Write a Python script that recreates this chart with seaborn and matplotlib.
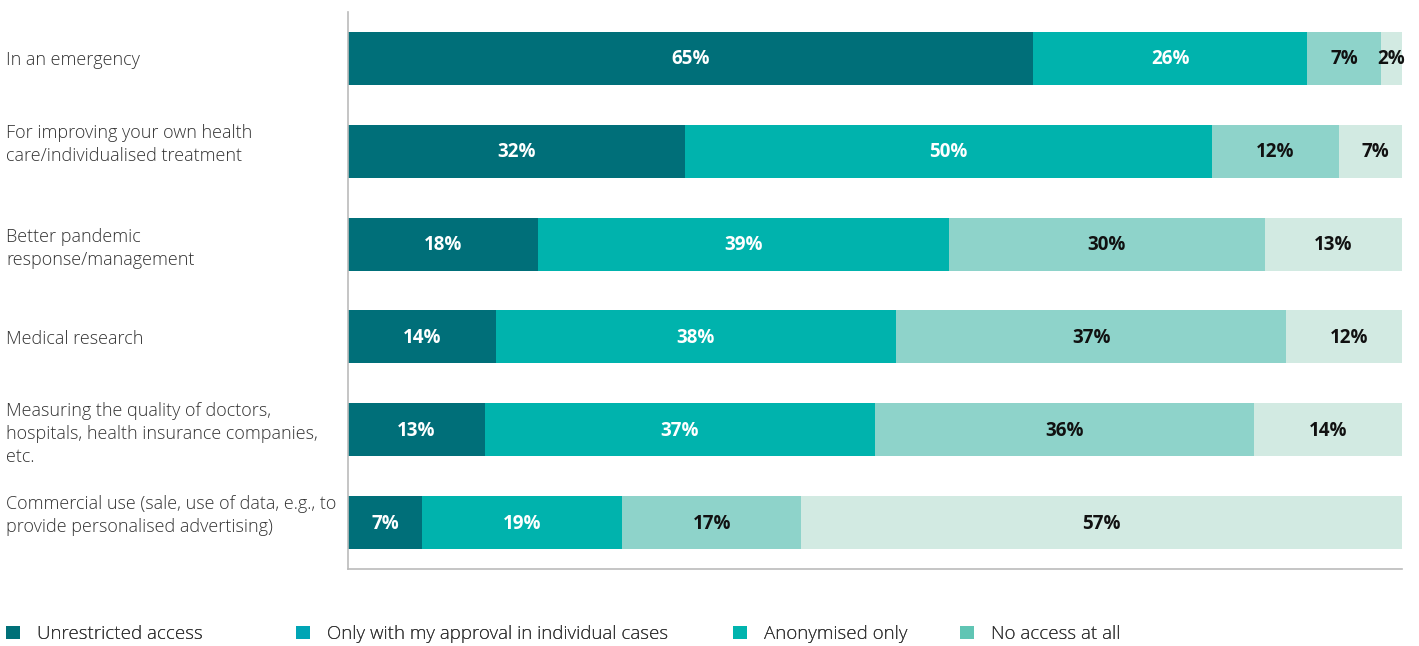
import matplotlib
matplotlib.use("Agg")
import matplotlib.pyplot as plt
from matplotlib.patches import Patch
import numpy as np
import pandas as pd
import seaborn as sns

categories = [
    "In an emergency",
    "For improving your own health\ncare/individualised treatment\n",
    "Better pandemic\nresponse/management",
    "Medical research",
    "Measuring the quality of doctors,\nhospitals, health insurance companies,\netc.",
    "Commercial use (sale, use of data, e.g., to\nprovide personalised advertising)\n",
]
series_names = [
    "Unrestricted access",
    "Only with my approval in individual cases",
    "Anonymised only",
    "No access at all",
]
unrestricted = [65, 32, 18, 14, 13, 7]
approval = [26, 50, 39, 38, 37, 19]
anonymised = [7, 12, 30, 37, 36, 17]
no_access = [2, 7, 13, 12, 14, 57]

bar_colors = ["#006F79", "#00B3AD", "#8ED3CA", "#D2EAE2"]
legend_colors = ["#007078", "#00A5B5", "#00B4AE", "#60C5B4"]
label_colors = ["white", "white", "#111111", "#111111"]

sns.set_style("white")
plt.rcParams["font.family"] = ["Open Sans", "DejaVu Sans"]

W, H = 1419, 646
fig = plt.figure(figsize=(W / 100, H / 100), dpi=100)
ax = fig.add_axes([348 / W, 1 - 569 / H, (1402 - 348) / W, (569 - 12) / H])

values = np.array([unrestricted, approval, anonymised, no_access], dtype=float)
cum = np.cumsum(values, axis=0)
lefts = cum - values

# Stacked bars: draw cumulative totals from the outermost layer inward
for k in range(len(series_names) - 1, -1, -1):
    df = pd.DataFrame({"category": categories, "total": cum[k]})
    sns.barplot(data=df, x="total", y="category", orient="h", color=bar_colors[k],
                saturation=1, width=0.57, linewidth=0, ax=ax)

for k in range(len(series_names)):
    for i in range(len(categories)):
        v = values[k, i]
        ax.text(lefts[k, i] + v / 2, i + 0.01, f"{int(v)}%", ha="center", va="center",
                fontsize=13.5, fontweight="bold", color=label_colors[k])

ax.set_xlim(0, 100)
ax.set_ylim(5.5, -0.5)
ax.set_xlabel("")
ax.set_ylabel("")
ax.set_xticks([])
for side in ("top", "right"):
    ax.spines[side].set_visible(False)
for side in ("left", "bottom"):
    ax.spines[side].set_color("#BBBBBB")
    ax.spines[side].set_linewidth(1.2)

ax.tick_params(axis="y", length=0, pad=246)
for lab in ax.get_yticklabels():
    lab.set_horizontalalignment("left")
    lab.set_fontsize(13)
    lab.set_fontweight("light")
    lab.set_color("#333333")
    lab.set_linespacing(1.35)

# Legend entries laid out along the bottom edge
legend_x = [6, 296, 733, 960]
for name, col, x in zip(series_names, legend_colors, legend_x):
    leg = fig.legend(handles=[Patch(facecolor=col, edgecolor="none", label=name)],
                     loc="center left", bbox_to_anchor=(x / W, 1 - 634 / H),
                     frameon=False, borderpad=0, borderaxespad=0,
                     handlelength=0.76, handleheight=0.76, handletextpad=0.88,
                     prop={"size": 13.5, "weight": "light"}, labelcolor="#333333")
    fig.add_artist(leg)

fig.savefig("out.png", dpi=100)
